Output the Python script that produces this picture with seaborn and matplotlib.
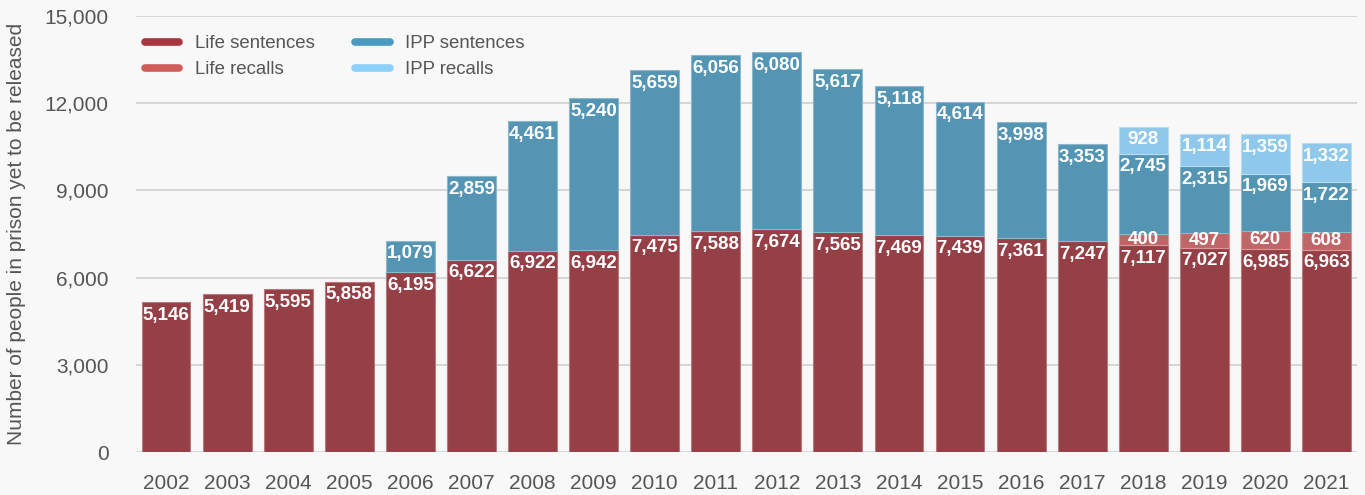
import numpy as np
import pandas as pd
import matplotlib
matplotlib.use("Agg")
import matplotlib.pyplot as plt
from matplotlib.lines import Line2D
import seaborn as sns

years = [str(y) for y in range(2002, 2022)]
life_sentences = [5146, 5419, 5595, 5858, 6195, 6622, 6922, 6942, 7475, 7588,
                  7674, 7565, 7469, 7439, 7361, 7247, 7117, 7027, 6985, 6963]
life_recalls = [0, 0, 0, 0, 0, 0, 0, 0, 0, 0,
                0, 0, 0, 0, 0, 0, 400, 497, 620, 608]
ipp_sentences = [0, 0, 0, 0, 1079, 2859, 4461, 5240, 5659, 6056,
                 6080, 5617, 5118, 4614, 3998, 3353, 2745, 2315, 1969, 1722]
ipp_recalls = [0, 0, 0, 0, 0, 0, 0, 0, 0, 0,
               0, 0, 0, 0, 0, 0, 928, 1114, 1359, 1332]

series_names = ["Life sentences", "Life recalls", "IPP sentences", "IPP recalls"]
bar_colors = ["#954046", "#c16668", "#5595b4", "#8fc8ea"]
legend_colors = ["#a8363f", "#d05c5c", "#4a9bc2", "#8dd0f8"]
edge_colors = ["#b87a7e", "#d89898", "#8cb8cc", "#b8dcf2"]

sns.set_theme(style="white")
plt.rcParams["font.family"] = ["Liberation Sans", "DejaVu Sans"]

bg = "#f8f8f8"
fig = plt.figure(figsize=(13.65, 4.95), dpi=100, facecolor=bg)
ax = fig.add_axes([135.5 / 1365, 1 - 452 / 495, 1221.5 / 1365, 436 / 495])
ax.set_facecolor(bg)

# horizontal gridlines behind the bars
for v in range(0, 15001, 3000):
    ax.axhline(v, color="#d6d6d6", lw=1.4 if v else 2.0, zorder=0)

all_series = [life_sentences, life_recalls, ipp_sentences, ipp_recalls]
bottom = np.zeros(len(years))
px_per_unit = 436 / 15000
for name, vals, col, ec in zip(series_names, all_series, bar_colors, edge_colors):
    vals = np.array(vals, dtype=float)
    mask = vals > 0
    df = pd.DataFrame({"year": np.array(years)[mask], "value": vals[mask]})
    sns.barplot(data=df, x="year", y="value", order=years, color=col,
                bottom=bottom[mask], width=0.8, saturation=1,
                edgecolor=ec, linewidth=0.8, ax=ax, zorder=2)
    for i in np.where(mask)[0]:
        seg_px = vals[i] * px_per_unit
        top = bottom[i] + vals[i]
        if seg_px < 22:
            ypos = bottom[i] + vals[i] / 2
            off = 0
        else:
            ypos = top
            off = -9.5
        ax.annotate(f"{int(vals[i]):,}", (i, ypos), xytext=(0, off),
                    textcoords="offset points", ha="center", va="center",
                    color="white", fontsize=13.5, fontweight="bold", zorder=4)
    bottom = bottom + vals

ax.set_xlim(-0.5, 19.5)
ax.set_ylim(0, 15000)
ax.set_yticks(range(0, 15001, 3000))
ax.set_yticklabels([f"{v:,}" for v in range(0, 15001, 3000)])
ax.tick_params(axis="y", length=0, pad=19.5, labelsize=15, labelcolor="#555555")
ax.tick_params(axis="x", length=0, pad=16, labelsize=15, labelcolor="#555555")
ax.set_xlabel("")
ax.set_ylabel("Number of people in prison yet to be released", fontsize=15,
              color="#555555")
ax.yaxis.set_label_coords(26 / 1365, 1 - 234 / 495, transform=fig.transFigure)
for s in ax.spines.values():
    s.set_visible(False)

handles = [Line2D([0], [0], color=c, lw=5.5, solid_capstyle="round")
           for c in legend_colors]
leg = fig.legend(handles, series_names, loc="upper left",
                 bbox_to_anchor=(145 / 1365, 1 - 35 / 495), ncol=2,
                 frameon=False, fontsize=13.4, handlelength=1.85,
                 handletextpad=0.85, columnspacing=2.15, labelspacing=0.5,
                 borderpad=0, borderaxespad=0)
for t in leg.get_texts():
    t.set_color("#555555")

fig.savefig("out.png", dpi=100, facecolor=bg)
